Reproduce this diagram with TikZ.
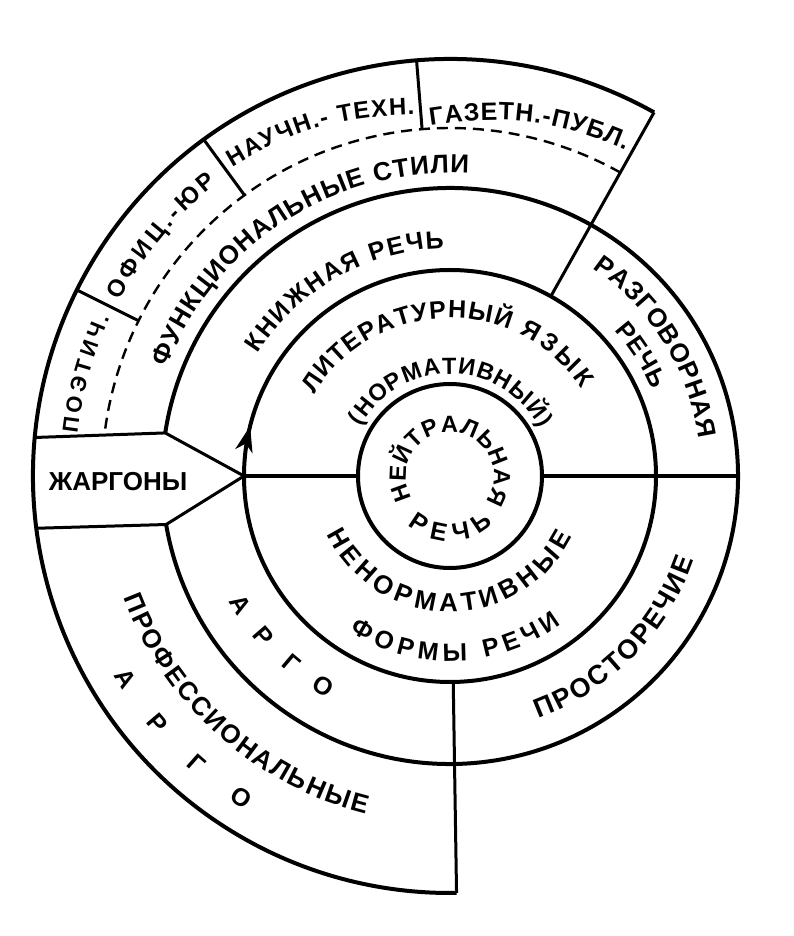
\documentclass[tikz,border=0pt]{standalone}
\usepackage{fontspec}
\setmainfont{Liberation Sans}
\usetikzlibrary{decorations.text}

\begin{document}
\begin{tikzpicture}[x=1pt, y=1pt,
    ring/.style={line width=4pt},
    divider/.style={line width=3pt},
    dashring/.style={line width=2.4pt, dash pattern=on 11pt off 7pt},
    arctext/.style 2 args={decorate, decoration={text along path,
        text align={fit to path}, text={|\fontsize{#1}{#1}\selectfont\bfseries|#2}}},
    letter/.style={inner sep=0pt, font=\fontsize{25}{25}\selectfont\bfseries}]
    \useasboundingbox (-450,-460) rectangle (343,476);

    % draw circles and rings
    \draw[ring] (0,0) circle[radius=92pt];
    \draw[ring] (0,0) circle[radius=206pt];
    \draw[ring] (-170.3:288pt) arc[start angle=-170.3, end angle=171.4, radius=288pt];
    \draw[ring] (60.7:417pt) arc[start angle=60.7, end angle=270.9, radius=417pt];
    \draw[dashring] (60.7:348pt) arc[start angle=60.7, end angle=173.2, radius=348pt];

    % draw arrow head on the circle
    \fill[shift={(166:206pt)}, rotate=76] (0,0) -- (-26,9) -- (-18,0) -- (-26,-9) -- cycle;

    % draw jargon box
    \coordinate (jtl) at (174.7:417pt);
    \coordinate (jtr) at (171.4:288pt);
    \coordinate (jtip) at (180:206pt);
    \coordinate (jbr) at (189.7:288pt);
    \coordinate (jbl) at (187.2:417pt);
    \draw[divider] (jtl) -- (jtr) -- (jtip) -- (jbr) -- (jbl);

    % draw straight lines
    \draw[ring] (jtip) -- (180:92pt);
    \draw[ring] (0:92pt) -- (0:288pt);
    \draw[divider] (270.9:206pt) -- (270.9:417pt);
    \draw[divider] (60.7:206pt) -- (60.7:417pt);
    \foreach \ang in {153.5, 126.2, 94.6}
        \draw[divider] (\ang:348pt) -- (\ang:417pt);

    % draw texts
    \node[font=\fontsize{26}{26}\selectfont\bfseries] (jargon) at (-332,-6) {ЖАРГОНЫ};
    \path[arctext={23.5}{НЕЙТРАЛЬНАЯ}] (211:44pt) arc[start angle=211, end angle=-36, radius=44pt];
    \path[arctext={25}{РЕЧЬ}] (229:65pt) arc[start angle=229, end angle=312, radius=65pt];
    \path[arctext={25}{ЛИТЕРАТУРНЫЙ}] (149:158pt) arc[start angle=149, end angle=68, radius=158pt];
    \path[arctext={25}{ЯЗЫК}] (64:158pt) arc[start angle=64, end angle=33.5, radius=158pt];
    \path[arctext={23.5}{(НОРМАТИВНЫЙ)}] (151:102pt) arc[start angle=151, end angle=28, radius=102pt];
    \path[arctext={26}{НЕНОРМАТИВНЫЕ}] (205.5:136pt) arc[start angle=205.5, end angle=333.5, radius=136pt];
    \path[arctext={25}{ФОРМЫ РЕЧИ}] (237:185pt) arc[start angle=237, end angle=307, radius=185pt];
    \path[arctext={25}{КНИЖНАЯ РЕЧЬ}] (147.5:228pt) arc[start angle=147.5, end angle=91.5, radius=228pt];
    \path[arctext={26}{ФУНКЦИОНАЛЬНЫЕ СТИЛИ}] (159:303pt) arc[start angle=159, end angle=86.5, radius=303pt];
    \path[arctext={22}{ПОЭТИЧ.}] (173.5:375pt) arc[start angle=173.5, end angle=155, radius=375pt];
    \path[arctext={24}{ОФИЦ.-ЮР}] (152:374pt) arc[start angle=152, end angle=128.5, radius=374pt];
    \path[arctext={24}{НАУЧН.- ТЕХН.}] (125.2:378pt) to[bend left=15] (95.6:363pt);
    \path[arctext={25}{ГАЗЕТН.-ПУБЛ.}] (93.2:351pt) to[bend left=16] (61.6:370pt);
    \path[arctext={26}{РАЗГОВОРНАЯ}] (55.5:252pt) arc[start angle=55.5, end angle=8.5, radius=252pt];
    \path[arctext={25}{РЕЧЬ}] (41.5:220pt) arc[start angle=41.5, end angle=23, radius=220pt];
    \path[arctext={27}{ПРОСТОРЕЧИЕ}] (290:258pt) arc[start angle=290, end angle=341, radius=258pt];
    \path[arctext={26}{ПРОФЕССИОНАЛЬНЫЕ}] (200.5:348pt) arc[start angle=200.5, end angle=256, radius=348pt];

    % draw spaced letters
    \foreach \ch/\ang [count=\i] in {А/211.6, Р/220.7, Г/229.8, О/238.9}
        \node[letter, rotate=\ang+90] (argo\i) at (\ang:246pt) {\ch};
    \foreach \ch/\ang [count=\i] in {А/212, Р/220.3, Г/228.6, О/237}
        \node[letter, rotate=\ang+90] (profargo\i) at (\ang:383pt) {\ch};
\end{tikzpicture}
\end{document}
